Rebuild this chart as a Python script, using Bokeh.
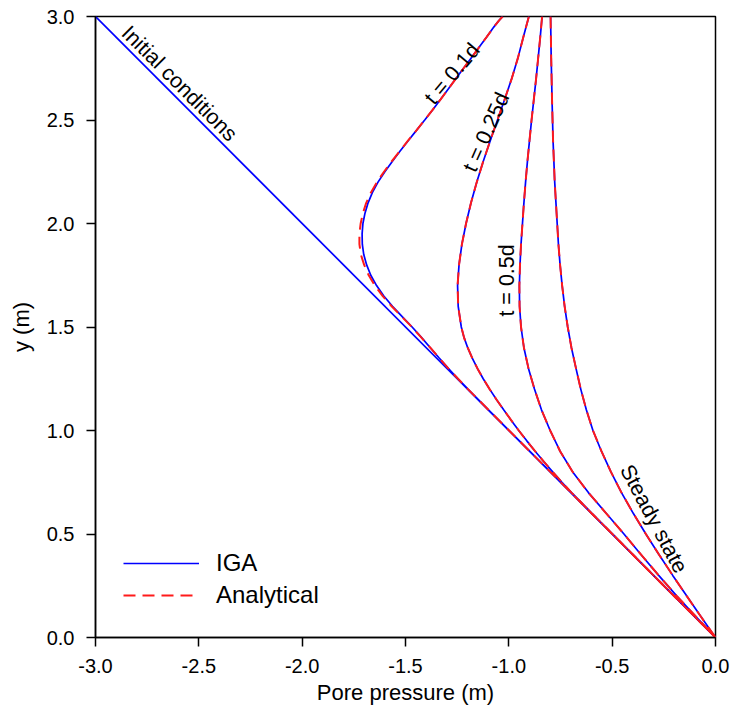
from bokeh.plotting import figure
from bokeh.models import Range1d, FixedTicker, PrintfTickFormatter, Label, Legend, LegendItem
from bokeh.embed import file_html
from bokeh.resources import INLINE

# ---------------- data ----------------
x_ticks = [-3.0, -2.5, -2.0, -1.5, -1.0, -0.5, 0.0]
y_ticks = [0.0, 0.5, 1.0, 1.5, 2.0, 2.5, 3.0]

# initial conditions (IGA only)
init_y = [3.0, 0.0]
init_p = [-3.0, 0.0]

# t = 0.1 d
t01_y = [3.00, 2.98, 2.95, 2.90, 2.85, 2.80, 2.75, 2.70, 2.65, 2.60, 2.55, 2.50,
         2.45, 2.40, 2.35, 2.30, 2.25, 2.20, 2.15, 2.10, 2.05, 2.00, 1.95, 1.90,
         1.85, 1.80, 1.75, 1.70, 1.65, 1.60, 1.55, 1.50, 1.45, 1.40, 1.35, 1.30,
         1.25, 1.20, 1.10, 1.00, 0.75, 0.50, 0.25, 0.00]
t01_iga = [-1.030, -1.048, -1.072, -1.108, -1.145, -1.182, -1.219, -1.256, -1.293,
           -1.330, -1.368, -1.407, -1.447, -1.487, -1.526, -1.564, -1.600, -1.633,
           -1.660, -1.681, -1.696, -1.706, -1.710, -1.709, -1.702, -1.688, -1.668,
           -1.640, -1.605, -1.563, -1.516, -1.468, -1.423, -1.380, -1.337, -1.293,
           -1.246, -1.198, -1.099, -0.999, -0.749, -0.499, -0.250, 0.0]
t01_ana = [-1.030, -1.048, -1.072, -1.108, -1.145, -1.182, -1.219, -1.256, -1.293,
           -1.330, -1.368, -1.407, -1.447, -1.488, -1.528, -1.567, -1.604, -1.638,
           -1.667, -1.690, -1.706, -1.717, -1.723, -1.723, -1.716, -1.700, -1.678,
           -1.648, -1.611, -1.567, -1.518, -1.469, -1.424, -1.380, -1.337, -1.293,
           -1.246, -1.198, -1.099, -0.999, -0.749, -0.499, -0.250, 0.0]

# t = 0.25 d
t025_y = [3.00, 2.90, 2.80, 2.70, 2.60, 2.50, 2.40, 2.30, 2.20, 2.10, 2.00, 1.90,
          1.80, 1.70, 1.60, 1.50, 1.45, 1.40, 1.35, 1.30, 1.25, 1.20, 1.15, 1.10,
          1.05, 1.00, 0.95, 0.90, 0.85, 0.80, 0.75, 0.70, 0.65, 0.60, 0.50, 0.40,
          0.30, 0.20, 0.00]
t025_iga = [-0.903, -0.930, -0.956, -0.986, -1.020, -1.055, -1.090, -1.124, -1.155,
            -1.183, -1.207, -1.227, -1.241, -1.248, -1.245, -1.230, -1.217, -1.199,
            -1.177, -1.152, -1.124, -1.093, -1.060, -1.025, -0.989, -0.952, -0.913,
            -0.873, -0.831, -0.788, -0.743, -0.697, -0.648, -0.599, -0.499, -0.400,
            -0.300, -0.200, 0.0]
t025_ana = list(t025_iga)

# t = 0.5 d
t05_y = [3.00, 2.90, 2.80, 2.70, 2.60, 2.50, 2.40, 2.30, 2.20, 2.10, 2.00, 1.90,
         1.80, 1.70, 1.60, 1.50, 1.40, 1.30, 1.20, 1.10, 1.00, 0.90, 0.80, 0.70,
         0.60, 0.50, 0.40, 0.30, 0.20, 0.10, 0.00]
t05_iga = [-0.839, -0.848, -0.858, -0.868, -0.879, -0.890, -0.900, -0.910, -0.919,
           -0.927, -0.934, -0.941, -0.946, -0.949, -0.948, -0.941, -0.927, -0.905,
           -0.876, -0.842, -0.800, -0.752, -0.691, -0.615, -0.529, -0.443, -0.360,
           -0.275, -0.187, -0.094, 0.0]
t05_ana = list(t05_iga)

# steady state
ss_y = [3.00, 2.80, 2.60, 2.40, 2.20, 2.00, 1.90, 1.80, 1.70, 1.60, 1.50, 1.40,
        1.30, 1.20, 1.10, 1.00, 0.90, 0.80, 0.70, 0.60, 0.50, 0.40, 0.30, 0.20,
        0.10, 0.00]
ss_iga = [-0.798, -0.795, -0.791, -0.786, -0.778, -0.766, -0.760, -0.752, -0.742,
          -0.730, -0.715, -0.697, -0.675, -0.652, -0.625, -0.593, -0.552, -0.506,
          -0.455, -0.398, -0.337, -0.273, -0.207, -0.139, -0.070, 0.0]
ss_ana = list(ss_iga)

legend_labels = ["IGA", "Analytical"]
curve_labels = ["Initial conditions", "t = 0.1d", "t = 0.25d", "t = 0.5d", "Steady state"]

# ---------------- styling ----------------
FONT = "Liberation Sans"
BLUE = "#0000ff"
RED = "#ff1a1a"

p = figure(width=730, height=711, x_range=Range1d(-3, 0), y_range=Range1d(0, 3),
           output_backend="svg", toolbar_location=None,
           min_border_left=95, min_border_right=15, min_border_top=16, min_border_bottom=74)
p.background_fill_color = "white"
p.border_fill_color = "white"
p.xgrid.visible = False
p.ygrid.visible = False
p.outline_line_color = "black"
p.outline_line_width = 1.5
p.outline_line_alpha = 1.0

for ax, ticks in ((p.xaxis, x_ticks), (p.yaxis, y_ticks)):
    ax.ticker = FixedTicker(ticks=ticks)
    ax.formatter = PrintfTickFormatter(format="%.1f")
    ax.minor_tick_line_color = None
    ax.major_tick_in = 0
    ax.major_tick_out = 9
    ax.major_tick_line_width = 1.5
    ax.axis_line_width = 1.5
    ax.axis_line_color = "black"
    ax.major_tick_line_color = "black"
    ax.major_label_text_font = FONT
    ax.major_label_text_font_size = "20px"
    ax.major_label_text_color = "black"
    ax.major_label_standoff = 12
    ax.axis_label_text_font = FONT
    ax.axis_label_text_font_size = "22px"
    ax.axis_label_text_font_style = "normal"
    ax.axis_label_text_color = "black"

p.xaxis.axis_label = "Pore pressure (m)"
p.yaxis.axis_label = "y (m)"
p.xaxis.axis_label_standoff = 4
p.yaxis.axis_label_standoff = 10

# IGA (solid blue)
r_init = p.line(init_p, init_y, line_color=BLUE, line_width=1.7)
for pp, yy in ((t01_iga, t01_y), (t025_iga, t025_y), (t05_iga, t05_y), (ss_iga, ss_y)):
    p.line(pp, yy, line_color=BLUE, line_width=1.7)

# Analytical (dashed red)
r_ana = None
for pp, yy in ((t01_ana, t01_y), (t025_ana, t025_y), (t05_ana, t05_y), (ss_ana, ss_y)):
    r = p.line(pp, yy, line_color=RED, line_width=2, line_dash="12 7")
    if r_ana is None:
        r_ana = r

legend = Legend(items=[LegendItem(label=legend_labels[0], renderers=[r_init]),
                       LegendItem(label=legend_labels[1], renderers=[r_ana])],
                location=(28, 26), padding=0, margin=0, spacing=0,
                glyph_width=76, glyph_height=32, label_height=32, label_standoff=17,
                label_text_font=FONT, label_text_font_size="24px",
                label_text_color="black",
                border_line_color=None, background_fill_alpha=0)
p.add_layout(legend, "center")

# curve annotations: (x, y, angle in degrees)
ann_pos = [(-2.594, 2.676, -45), (-1.274, 2.723, 50), (-1.109, 2.441, 66),
           (-1.008, 1.725, 90), (-0.299, 0.573, -62)]
for txt, (ax_, ay_, ang) in zip(curve_labels, ann_pos):
    p.add_layout(Label(x=ax_, y=ay_, text=txt, angle=ang, angle_units="deg",
                       text_align="center", text_baseline="middle",
                       text_font=FONT, text_font_size="21.5px", text_color="black"))

open("out.html", "w").write(file_html(p, INLINE))
